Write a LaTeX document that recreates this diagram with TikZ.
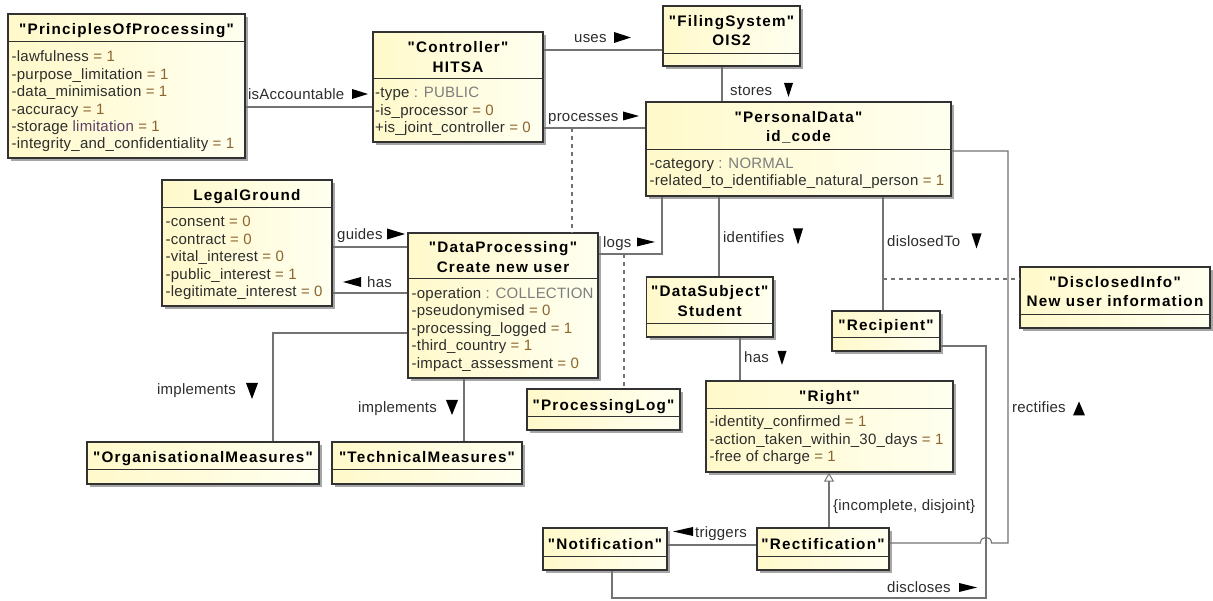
\documentclass[tikz,border=0pt]{standalone}
\usepackage{fontspec}
\setmainfont{Liberation Sans}[LetterSpace=1.5]
\newfontface\hdfont{Liberation Sans Bold}[LetterSpace=8]
\usetikzlibrary{calc,shadows,arrows.meta}

\definecolor{boxL}{RGB}{255,249,202}
\definecolor{boxR}{RGB}{255,255,240}
\definecolor{border}{RGB}{50,50,50}
\definecolor{wirec}{RGB}{115,115,115}
\definecolor{txt}{RGB}{45,45,45}
\definecolor{val}{RGB}{140,100,45}
\definecolor{typ}{RGB}{125,125,125}
\definecolor{purp}{RGB}{95,65,105}

\tikzset{
  cls/.style={draw=border, line width=1.3pt, left color=boxL, right color=boxR,
    inner sep=0pt, drop shadow={shadow xshift=3pt, shadow yshift=-3pt, fill=black, opacity=0.35}},
  sepline/.style={draw=border, line width=1pt},
  hd/.style={font=\hdfont\fontsize{15.25}{20}\selectfont, text=black, inner sep=0pt, anchor=base},
  attr/.style={font=\fontsize{15}{17.4}\selectfont, text=txt, inner sep=0pt, anchor=base west},
  lbl/.style={font=\fontsize{15}{17.4}\selectfont, text=txt, inner sep=0pt, anchor=base west},
  wire/.style={draw=wirec, line width=1.1pt},
  dotl/.style={wire, dash pattern=on 4pt off 4pt},
}

% class box: name, left, top, right, bottom, y of the compartment line
\newcommand\umlbox[6]{%
  \node[cls, minimum width={(#4-#2)*1pt}, minimum height={(#5-#3)*1pt}] (#1) at ({(#2+#4)/2},{(#3+#5)/2}) {};
  \draw[sepline] ($(#1.north west)+(0,#6-#3)$) -- ($(#1.north east)+(0,#6-#3)$);
}
% slot texts: name = value, name : type
\newcommand\vv[2]{#1 {\color{val}= #2}}
\newcommand\tv[2]{#1 {\color{typ}: #2}}
% attribute list: box name, x, first baseline, list
\newcommand\attrs[4]{%
  \foreach \t [count=\i from 0] in {#4} \node[attr] (#1-a\i) at ({#2},{#3+\i*17.4}) {\t};
}
% filled direction marks: centre x, centre y, width, height
\newcommand\triR[4]{\fill ({#1-#3/2},{#2-#4/2}) -- ({#1+#3/2},{#2}) -- ({#1-#3/2},{#2+#4/2}) -- cycle;}
\newcommand\triL[4]{\fill ({#1+#3/2},{#2-#4/2}) -- ({#1-#3/2},{#2}) -- ({#1+#3/2},{#2+#4/2}) -- cycle;}
\newcommand\triD[4]{\fill ({#1-#3/2},{#2-#4/2}) -- ({#1+#3/2},{#2-#4/2}) -- ({#1},{#2+#4/2}) -- cycle;}
\newcommand\triU[4]{\fill ({#1-#3/2},{#2+#4/2}) -- ({#1+#3/2},{#2+#4/2}) -- ({#1},{#2-#4/2}) -- cycle;}

\begin{document}
\begin{tikzpicture}[x=1pt,y=-1pt]
\fill[white] (0,0) rectangle (1213,601);
\useasboundingbox (0,0) rectangle (1213,601);

% ---------- classes ----------
\umlbox{pop}{8}{14}{245}{158}{42}
\node[hd] (pop-h) at (126.5,34.5) {"PrinciplesOfProcessing"};
\attrs{pop}{11.5}{62}{\vv{-lawfulness}{1},\vv{-purpose\_limitation}{1},\vv{-data\_minimisation}{1},\vv{-accuracy}{1},\vv{-storage {\color{purp}limitation}}{1},\vv{-integrity\_and\_confidentiality}{1}}

\umlbox{ctrl}{373}{32}{543}{142}{79}
\node[hd] (ctrl-h1) at (458,52.5) {"Controller"};
\node[hd] (ctrl-h2) at (458,72.5) {HITSA};
\attrs{ctrl}{375}{98}{\tv{-type}{PUBLIC},\vv{-is\_processor}{0},\vv{+is\_joint\_controller}{0}}

\umlbox{fs}{663}{6}{800}{66}{54}
\node[hd] (fs-h1) at (731.5,26.5) {"FilingSystem"};
\node[hd] (fs-h2) at (731.5,46) {OIS2};

\umlbox{pd}{646}{102}{951}{196}{150}
\node[hd] (pd-h1) at (798.5,122.5) {"PersonalData"};
\node[hd] (pd-h2) at (798.5,142) {id\_code};
\attrs{pd}{649.5}{168.5}{\tv{-category}{NORMAL},\vv{-related\_to\_identifiable\_natural\_person}{1}}

\umlbox{lg}{162}{180}{332}{306}{208}
\node[hd] (lg-h) at (247,200.5) {LegalGround};
\attrs{lg}{165.5}{227}{\vv{-consent}{0},\vv{-contract}{0},\vv{-vital\_interest}{0},\vv{-public\_interest}{1},\vv{-legitimate\_interest}{0}}

\umlbox{dp}{408}{233}{598}{378}{279}
\node[hd] (dp-h1) at (503,253) {"DataProcessing"};
\node[hd] (dp-h2) at (503,273) {Create new user};
\attrs{dp}{411.5}{298.5}{\tv{-operation}{COLLECTION},\vv{-pseudonymised}{0},\vv{-processing\_logged}{1},\vv{-third\_country}{1},\vv{-impact\_assessment}{0}}

\umlbox{ds}{646.5}{277}{773}{337}{324}
\node[hd] (ds-h1) at (709.75,296.5) {"DataSubject"};
\node[hd] (ds-h2) at (709.75,316.5) {Student};

\umlbox{rcp}{832}{311}{940}{351}{338}
\node[hd] (rcp-h) at (886,331) {"Recipient"};

\umlbox{di}{1020}{267}{1210}{328}{315}
\node[hd] (di-h1) at (1115,288) {"DisclosedInfo"};
\node[hd] (di-h2) at (1115,307) {New user information};

\umlbox{right}{706}{381}{953}{472}{409}
\node[hd] (right-h) at (829.5,401.5) {"Right"};
\attrs{right}{709.5}{427}{\vv{-identity\_confirmed}{1},\vv{-action\_taken\_within\_30\_days}{1},\vv{-free of charge}{1}}

\umlbox{plog}{527}{389}{680}{430}{417}
\node[hd] (plog-h) at (603.5,410) {"ProcessingLog"};

\umlbox{notif}{543}{528}{667}{570}{557}
\node[hd] (notif-h) at (605,549) {"Notification"};

\umlbox{rect}{757}{528}{889}{570}{557}
\node[hd] (rect-h) at (823,549) {"Rectification"};

\umlbox{org}{87}{442}{319}{484}{470}
\node[hd] (org-h) at (203,462.5) {"OrganisationalMeasures"};

\umlbox{tech}{332}{442}{522}{484}{470}
\node[hd] (tech-h) at (427,462.5) {"TechnicalMeasures"};

% ---------- routing levels ----------
\coordinate (yAcc) at (0,107);
\coordinate (yUses) at (0,50);
\coordinate (xSt) at (722,0);
\coordinate (yProc) at (0,128);
\coordinate (pjoin) at (572,128);
\coordinate (yLogs) at (0,254);
\coordinate (xLogs) at (662,0);
\coordinate (ljoin) at (624,254);
\coordinate (xId) at (719,0);
\coordinate (xDis) at (883,0);
\coordinate (djoin) at (883,279);
\coordinate (yRt) at (0,151);
\coordinate (rtA) at (1008,151);
\coordinate (rtB) at (1008,543);
\coordinate (hopR) at (991.5,543);
\coordinate (hopL) at (980.5,543);
\coordinate (xHas) at (740,0);
\coordinate (yG) at (0,247);
\coordinate (yHas) at (0,293);
\coordinate (yImp) at (0,333);
\coordinate (xImp) at (273,0);
\coordinate (xTech) at (464,0);
\coordinate (xGen) at (829,0);
\coordinate (yTr) at (0,545);
\coordinate (xNo) at (612,0);
\coordinate (dsA) at (612,598);
\coordinate (dsB) at (986,598);
\coordinate (dsC) at (986,346);

% ---------- connectors ----------
\draw[wire] (pop.east |- yAcc) -- (ctrl.west |- yAcc);
\draw[wire] (ctrl.east |- yUses) -- (fs.west |- yUses);
\draw[wire] (fs.south -| xSt) -- (pd.north -| xSt);
\draw[wire] (ctrl.east |- yProc) -- (pd.west |- yProc);
\draw[dotl] (pjoin) -- (dp.north -| pjoin);
\draw[wire] (dp.east |- yLogs) -| (pd.south -| xLogs);
\draw[dotl] (ljoin) -- (plog.north -| ljoin);
\draw[wire] (pd.south -| xId) -- (ds.north -| xId);
\draw[wire] (pd.south -| xDis) -- (rcp.north -| xDis);
\draw[dotl] (djoin) -- (di.west |- djoin);
\draw[wire] (pd.east |- yRt) -- (rtA) -- (rtB) -- (hopR)
  .. controls (991.5,535.5) and (980.5,535.5) .. (hopL) -- (rect.east |- rtB);
\draw[wire] (ds.south -| xHas) -- (right.north -| xHas);
\draw[wire] (lg.east |- yG) -- (dp.west |- yG);
\draw[wire] (lg.east |- yHas) -- (dp.west |- yHas);
\draw[wire] (dp.west |- yImp) -| (org.north -| xImp);
\draw[wire] (dp.south -| xTech) -- (tech.north -| xTech);
\draw[wire, -{Triangle[open, width=10pt, length=9pt, line width=1pt]}] (rect.north -| xGen) -- (right.south -| xGen);
\draw[wire] (rect.west |- yTr) -- (notif.east |- yTr);
\draw[wire] (notif.south -| xNo) -- (dsA) -- (dsB) -- (dsC) -- (rcp.east |- dsC);

% ---------- connector labels ----------
\node[lbl] (lAcc) at (248,100) {isAccountable};   \triR{360}{94}{16}{10}
\node[lbl] (lUses) at (574,43) {uses};            \triR{622.5}{37.5}{17}{11}
\node[lbl] (lSt) at (730,96) {stores};            \triD{788.5}{90}{9}{14}
\node[lbl] (lProc) at (548,122) {processes};      \triR{631}{116}{16}{9}
\node[lbl] (lLogs) at (603,248) {logs};           \triR{646}{242}{18}{9}
\node[lbl] (lId) at (723,242.5) {identifies};     \triD{798}{236.5}{10}{16}
\node[lbl] (lDis) at (887,246.5) {dislosedTo};    \triD{976.5}{241}{10}{15}
\node[lbl] (lRt) at (1012,413) {rectifies};       \triU{1079}{408.5}{12}{14}
\node[lbl] (lHas) at (744,363) {has};             \triD{782}{358}{9}{14}
\node[lbl] (lG) at (337,240) {guides};            \triR{396}{234}{18}{11}
\node[lbl] (lHas2) at (367,288) {has};            \triL{352}{282}{18}{10}
\node[lbl] (lImp1) at (157,395) {implements};     \triD{252}{391}{12}{16}
\node[lbl] (lImp2) at (358,412.5) {implements};   \triD{452}{407.5}{12}{15}
\node[lbl] (lGen) at (833,510.5) {\{incomplete, disjoint\}};
\node[lbl] (lTr) at (695,537) {triggers};         \triL{683}{531.5}{20}{9}
\node[lbl] (lDcl) at (887,592) {discloses};       \triR{968}{587.5}{18}{9}
\end{tikzpicture}
\end{document}
